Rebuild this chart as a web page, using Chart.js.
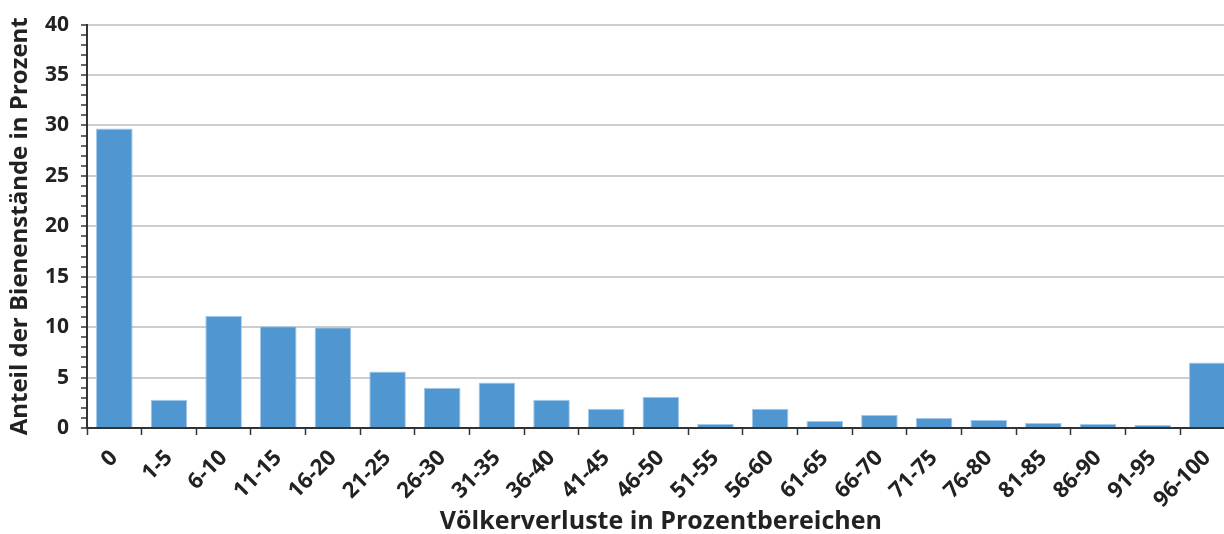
<!DOCTYPE html>
<html>
<head>
<meta charset="utf-8">
<script src="https://cdn.jsdelivr.net/npm/chart.js@4"></script>
<style>
    html, body {
        margin: 0;
        padding: 0;
        background: #fff;
        overflow: hidden;
    }

    #wrap {
        width: 1236px;
        height: 534px;
    }
</style>
</head>
<body>
<div id="wrap">
    <canvas id="chart" width="1236" height="534"></canvas>
</div>

<script>
// Völkerverluste in Prozentbereichen (x) vs. Anteil der Bienenstände in Prozent (y)
const lossRanges = ["0", "1-5", "6-10", "11-15", "16-20", "21-25", "26-30", "31-35", "36-40", "41-45",
    "46-50", "51-55", "56-60", "61-65", "66-70", "71-75", "76-80", "81-85", "86-90", "91-95", "96-100"];

const apiaryShare = [29.7, 2.8, 11.1, 10.1, 10.0, 5.6, 4.0, 4.5, 2.8, 1.9,
    3.1, 0.4, 1.9, 0.7, 1.3, 1.0, 0.8, 0.5, 0.4, 0.3, 6.5];

const yMin = 0;
const yMax = 40;
const yLabelStep = 5;

const FONT = "'Open Sans', 'DejaVu Sans', sans-serif";
const INK = "#222";

new Chart(document.getElementById("chart"), {
    type: "bar",
    data: {
        labels: lossRanges,
        datasets: [{
            data: apiaryShare,
            backgroundColor: "#5097d1",
            borderColor: "#a3c9ea",
            borderWidth: 1,
            barPercentage: 0.67,
            categoryPercentage: 1
        }]
    },
    options: {
        responsive: false,
        animation: false,
        devicePixelRatio: 1,
        layout: { padding: { top: 23, right: 0, bottom: 0, left: 0 } },
        plugins: {
            legend: { display: false },
            tooltip: { enabled: false }
        },
        scales: {
            x: {
                offset: true,
                afterFit: s => { s.height = 106; },
                grid: {
                    offset: true,
                    drawOnChartArea: false,
                    drawTicks: true,
                    tickLength: 7,
                    tickColor: "#333",
                    tickWidth: 1.5
                },
                border: { color: "#333", width: 2 },
                ticks: {
                    autoSkip: false,
                    maxRotation: 45,
                    minRotation: 45,
                    padding: 10,
                    color: INK,
                    font: { family: FONT, size: 22, weight: "bold" }
                },
                title: {
                    display: true,
                    text: "Völkerverluste in Prozentbereichen",
                    color: INK,
                    padding: { top: 0, bottom: 0 },
                    font: { family: FONT, size: 25, weight: "bold", lineHeight: 1 }
                }
            },
            y: {
                min: yMin,
                max: yMax,
                afterFit: s => { s.width = 87; },
                grid: {
                    color: c => (c.tick && c.tick.value % yLabelStep === 0 && c.tick.value !== 0) ? "#cdcdcd" : "rgba(0,0,0,0)",
                    lineWidth: 2,
                    drawTicks: true,
                    tickLength: 6,
                    tickColor: "#333",
                    tickWidth: 1.5
                },
                border: { color: "#333", width: 2 },
                ticks: {
                    stepSize: 1,
                    autoSkip: false,
                    padding: 12,
                    color: INK,
                    font: { family: FONT, size: 21, weight: "bold" },
                    callback: v => (v % yLabelStep === 0 ? v : "")
                },
                title: {
                    display: true,
                    text: "Anteil der Bienenstände in Prozent",
                    color: INK,
                    padding: { top: 8, bottom: 0 },
                    font: { family: FONT, size: 24, weight: "bold", lineHeight: 1 }
                }
            }
        }
    }
});
</script>
</body>
</html>
